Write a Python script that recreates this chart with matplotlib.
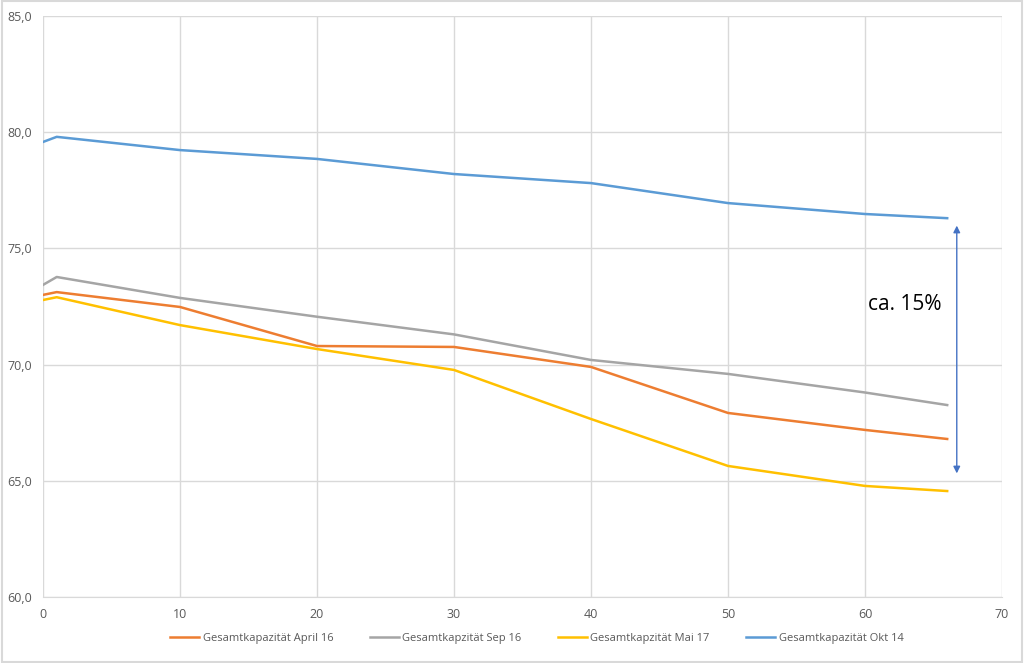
import matplotlib
matplotlib.use("Agg")
import matplotlib.pyplot as plt
from matplotlib.ticker import FuncFormatter, MultipleLocator

plt.rcParams['font.family'] = ['Open Sans', 'DejaVu Sans']

x = [0, 1, 10, 20, 30, 40, 50, 60, 66]
april16 = [73.0, 73.12, 72.48, 70.8, 70.76, 69.9, 67.92, 67.19, 66.8]
sep16 = [73.43, 73.77, 72.87, 72.06, 71.3, 70.2, 69.6, 68.8, 68.26]
mai17 = [72.78, 72.9, 71.7, 70.67, 69.77, 67.66, 65.64, 64.78, 64.56]
okt14 = [79.58, 79.8, 79.23, 78.85, 78.2, 77.81, 76.95, 76.48, 76.3]

labels = ["Gesamtkapazität April 16", "Gesamtkapzität Sep 16",
          "Gesamtkapzität Mai 17", "Gesamtkapazität Okt 14"]
colors = ["#ED7D31", "#A5A5A5", "#FFC000", "#5B9BD5"]
series = [april16, sep16, mai17, okt14]

arrow_x = 66.7
arrow_top = 76.1
arrow_bottom = 65.2
annot_text = "ca. 15%"

fig = plt.figure(figsize=(10.24, 6.63), dpi=100)
fig.patch.set_facecolor("white")
ax = fig.add_axes([0.042, 0.0995, 0.9365, 0.8764])

for s, c, l in zip(series, colors, labels):
    ax.plot(x, s, color=c, lw=1.8, label=l, solid_joinstyle='round')

ax.set_xlim(0, 70)
ax.set_ylim(60, 85)
ax.xaxis.set_major_locator(MultipleLocator(10))
ax.yaxis.set_major_locator(MultipleLocator(5))
ax.yaxis.set_major_formatter(FuncFormatter(lambda v, p: f"{v:.1f}".replace(".", ",")))
ax.grid(True, color="#D9D9D9", lw=1)
ax.set_axisbelow(True)
for sp in ["top", "right", "left"]:
    ax.spines[sp].set_visible(False)
ax.spines["bottom"].set_color("#D9D9D9")
ax.tick_params(length=0, colors="#595959", labelsize=9, pad=8)

ax.annotate("", xy=(arrow_x, arrow_bottom), xytext=(arrow_x, arrow_top),
            arrowprops=dict(arrowstyle="<|-|>", color="#4472C4", lw=1,
                            mutation_scale=10))
ax.text(60.2, 72.6, annot_text, fontsize=15, color="black", va="center", ha="left")

ax.legend(loc="upper center", bbox_to_anchor=(0.515, -0.045), ncol=4, frameon=False,
          fontsize=8, labelcolor="#595959", handlelength=2.6, columnspacing=3.3,
          handletextpad=0.3)

fig.add_artist(plt.Rectangle((0.002, 0.002), 0.996, 0.996, transform=fig.transFigure,
                             fill=False, edgecolor="#D9D9D9", lw=1.5))

fig.savefig("out.png", dpi=100)
